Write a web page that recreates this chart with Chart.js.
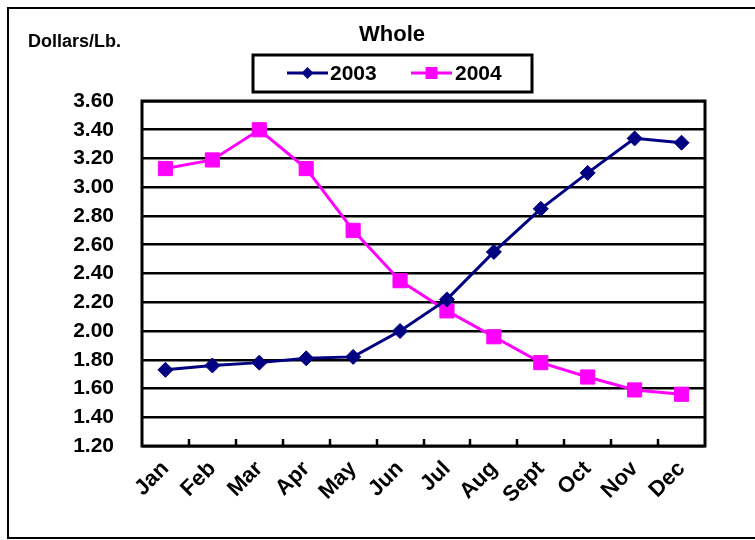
<!DOCTYPE html>
<html>
<head>
<meta charset="utf-8">
<script src="https://cdn.jsdelivr.net/npm/chart.js@4/dist/chart.umd.min.js"></script>
<style>
  html, body { margin: 0; padding: 0; background: #fff; }
  #wrap { width: 755px; height: 540px; }
</style>
</head>
<body>
<div id="wrap"><canvas id="chart" width="755" height="540"></canvas></div>
<script>
const months = ["Jan", "Feb", "Mar", "Apr", "May", "Jun", "Jul", "Aug", "Sept", "Oct", "Nov", "Dec"];
const prices2003 = [1.73, 1.76, 1.78, 1.81, 1.82, 2.00, 2.22, 2.55, 2.85, 3.10, 3.34, 3.31];
const prices2004 = [3.13, 3.19, 3.40, 3.13, 2.70, 2.35, 2.14, 1.96, 1.78, 1.68, 1.59, 1.56];
const seriesNames = ["2003", "2004"];
const yMin = 1.2, yMax = 3.6, yStep = 0.2;

const NAVY = "#000080";
const MAGENTA = "#FF00FF";
const FONT = "Arial, 'Liberation Sans', sans-serif";

// frame, unit label, boxed legend, plot border and inward tick marks
const decor = {
  id: "decor",
  beforeDraw(chart) {
    const ctx = chart.ctx;
    ctx.save();
    ctx.fillStyle = "#fff";
    ctx.fillRect(0, 0, chart.width, chart.height);
    ctx.strokeStyle = "#000";
    ctx.lineWidth = 2;
    ctx.strokeRect(8, 8, 800, 530);

    ctx.fillStyle = "#000";
    ctx.font = "bold 18px " + FONT;
    ctx.textAlign = "left";
    ctx.textBaseline = "middle";
    ctx.fillText("Dollars/Lb.", 28, 42);

    // legend
    ctx.lineWidth = 3;
    ctx.strokeRect(253, 55, 279, 37);
    const items = [
      { x0: 287, x1: 328, tx: 330, color: NAVY, style: "diamond", text: seriesNames[0] },
      { x0: 411, x1: 452, tx: 455, color: MAGENTA, style: "square", text: seriesNames[1] },
    ];
    const ly = 73;
    items.forEach((it) => {
      ctx.strokeStyle = it.color;
      ctx.lineWidth = 3;
      ctx.beginPath();
      ctx.moveTo(it.x0, ly);
      ctx.lineTo(it.x1, ly);
      ctx.stroke();
      const cx = (it.x0 + it.x1) / 2;
      ctx.fillStyle = it.color;
      ctx.beginPath();
      if (it.style === "diamond") {
        ctx.moveTo(cx - 6, ly);
        ctx.lineTo(cx, ly - 6);
        ctx.lineTo(cx + 6, ly);
        ctx.lineTo(cx, ly + 6);
        ctx.closePath();
      } else {
        ctx.rect(cx - 6, ly - 6, 12, 12);
      }
      ctx.fill();
      ctx.fillStyle = "#000";
      ctx.font = "bold 21px " + FONT;
      ctx.fillText(it.text, it.tx, ly + 1);
    });
    ctx.restore();
  },
  beforeDatasetsDraw(chart) {
    const { ctx, chartArea: a, scales: { x } } = chart;
    ctx.save();
    ctx.strokeStyle = "#000";
    ctx.lineWidth = 2.5;
    for (let i = 1; i < months.length; i++) {
      const px = Math.round((x.getPixelForValue(i - 1) + x.getPixelForValue(i)) / 2);
      ctx.beginPath();
      ctx.moveTo(px, a.bottom);
      ctx.lineTo(px, a.bottom - 7);
      ctx.stroke();
    }
    ctx.lineWidth = 3;
    ctx.strokeRect(a.left, a.top, a.right - a.left, a.bottom - a.top);
    ctx.restore();
  },
};

new Chart(document.getElementById("chart"), {
  type: "line",
  data: {
    labels: months,
    datasets: [
      {
        label: seriesNames[0],
        data: prices2003,
        borderColor: NAVY,
        backgroundColor: NAVY,
        borderWidth: 3,
        pointStyle: "rectRot",
        pointRadius: 7.5,
        pointBorderWidth: 1,
        tension: 0,
      },
      {
        label: seriesNames[1],
        data: prices2004,
        borderColor: MAGENTA,
        backgroundColor: MAGENTA,
        borderWidth: 3,
        pointStyle: "rect",
        pointRadius: 10,
        pointBorderWidth: 1,
        tension: 0,
      },
    ],
  },
  options: {
    responsive: false,
    animation: false,
    layout: { padding: { left: 29, right: 0, top: 0, bottom: 0 } },
    plugins: {
      legend: { display: false },
      tooltip: { enabled: false },
      title: {
        display: true,
        text: "Whole",
        color: "#000",
        font: { family: FONT, size: 22, weight: "bold", lineHeight: 1.2 },
        padding: { top: 22, bottom: 52.6 },
      },
    },
    scales: {
      x: {
        offset: true,
        grid: { display: false, drawTicks: false },
        border: { display: false },
        ticks: {
          color: "#000",
          font: { family: FONT, size: 22, weight: "bold" },
          minRotation: 45,
          maxRotation: 45,
          padding: 10,
          autoSkip: false,
        },
        afterFit(scale) { scale.height = 94; },
      },
      y: {
        min: yMin,
        max: yMax,
        grid: { color: "#000", lineWidth: 2.5, drawTicks: false },
        border: { display: false },
        ticks: {
          stepSize: yStep,
          color: "#000",
          font: { family: FONT, size: 21, weight: "bold" },
          padding: 28,
          callback: (v) => Number(v).toFixed(2),
        },
        afterFit(scale) { scale.width = 113; },
      },
      yRight: {
        position: "right",
        display: true,
        grid: { display: false, drawTicks: false },
        border: { display: false },
        ticks: { display: false },
        afterFit(scale) { scale.width = 50; },
      },
    },
  },
  plugins: [decor],
});
</script>
</body>
</html>
